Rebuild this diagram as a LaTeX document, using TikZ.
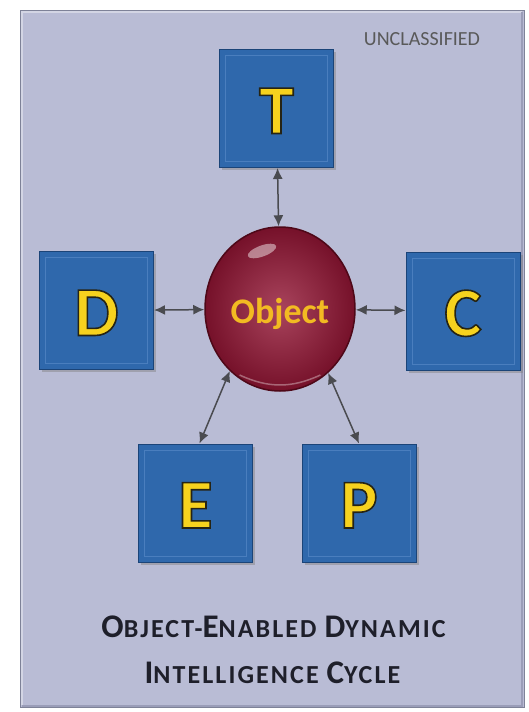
\documentclass[tikz,border=0pt]{standalone}
\usepackage{fontspec}
\setmainfont{Carlito}
\usetikzlibrary{arrows.meta,shapes.geometric,shadows}
\definecolor{panelbg}{HTML}{B9BCD5}
\definecolor{panelhi}{HTML}{D3D5E4}
\definecolor{paneldark}{HTML}{9A9DB8}
\definecolor{paneledge}{HTML}{7E8298}
\definecolor{boxblue}{HTML}{2F68AC}
\definecolor{boxedge}{HTML}{1B4478}
\definecolor{boxlight}{HTML}{4A7EBE}
\definecolor{letter}{HTML}{F6D21E}
\definecolor{objred}{HTML}{931534}
\definecolor{objdark}{HTML}{4E0818}
\definecolor{objtext}{HTML}{F2BA22}
\definecolor{arrowgray}{HTML}{4A4B50}
\definecolor{titleink}{HTML}{1E1F2A}
\newcommand\capsmall[2]{{\fontsize{33}{33}\selectfont #1}#2}
% yellow letters with a dark rim (fill and stroke)
\newcommand\rimmed[1]{\special{pdf:literal direct 2 Tr 1.6 w 0.15 0.14 0.08 RG}#1\special{pdf:literal direct 0 Tr}}

\tikzset{
  tbox/.style={draw=boxedge, line width=1pt, fill=boxblue,
    minimum width=114pt, minimum height=118pt, inner sep=0pt,
    text height=50pt, text depth=0pt,
    drop shadow={shadow xshift=2.5pt, shadow yshift=-2.5pt, opacity=.45},
    font=\fontsize{70}{70}\selectfont\bfseries, text=letter,
    path picture={\draw[boxlight, line width=1pt]
      ([shift={(6pt,-6pt)}]path picture bounding box.north west) rectangle
      ([shift={(-6pt,6pt)}]path picture bounding box.south east);}},
  objball/.style={ellipse, draw=objdark, line width=1.5pt,
    inner color=objred!80!white, outer color=objred!80!black,
    minimum width=150pt, minimum height=164pt, inner sep=0pt,
    text height=28pt, text depth=0pt,
    font=\fontsize{36}{36}\selectfont\bfseries, text=objtext},
  arr/.style={draw=arrowgray, line width=1.5pt,
    {Latex[length=11pt,width=10pt]}-{Latex[length=11pt,width=10pt]}},
  title/.style={font=\fontsize{26}{26}\selectfont\bfseries\addfontfeature{LetterSpace=8},
    text=titleink, anchor=base}
}

\begin{document}
\begin{tikzpicture}[x=1pt,y=-1pt]
\useasboundingbox (0,0) rectangle (529,712);
\fill[white] (0,0) rectangle (529,712);
% panel
\fill[panelbg] (20,10) rectangle (524,707);
\draw[panelhi, line width=3pt] (21.5,705) |- (522,11.5);
\draw[paneldark, line width=2pt] (522,11.5) |- (21.5,706);
\draw[paneledge, line width=.6pt] (20,10) rectangle (524,707);
\node[anchor=base, font=\fontsize{20}{20}\selectfont, text=black!65] (mark) at (422,45) {UNCLASSIFIED};
% object
\node[objball] (obj) at (280,309) {Object};
\fill[white, opacity=.45, rotate around={20:(262,251)}] (262,251) ellipse (15pt and 5.5pt);
\draw[white, opacity=.35, line width=1.5pt] ([shift={(0pt,4pt)}]obj.240) to[bend right=25] ([shift={(0pt,4pt)}]obj.300);
% boxes
\foreach \n/\x/\y in {T/276.5/108.5, D/96.5/310.5, C/463/311, E/195.5/503, P/359/503}
  \node[tbox] (\n) at (\x,\y) {\rimmed{\n}};
% connectors
\foreach \a in {T,D,C} \draw[arr] (\a) -- (obj);
\draw[arr] ([xshift=4pt]E.north) -- (obj.231);
\draw[arr] (P.north) -- (obj.307);
% caption
\node[title] (title1) at (273.5,637) {\capsmall{O}{BJECT}-\capsmall{E}{NABLED} \capsmall{D}{YNAMIC}};
\node[title] (title2) at (272.5,683) {\capsmall{I}{NTELLIGENCE} \capsmall{C}{YCLE}};
\end{tikzpicture}
\end{document}
